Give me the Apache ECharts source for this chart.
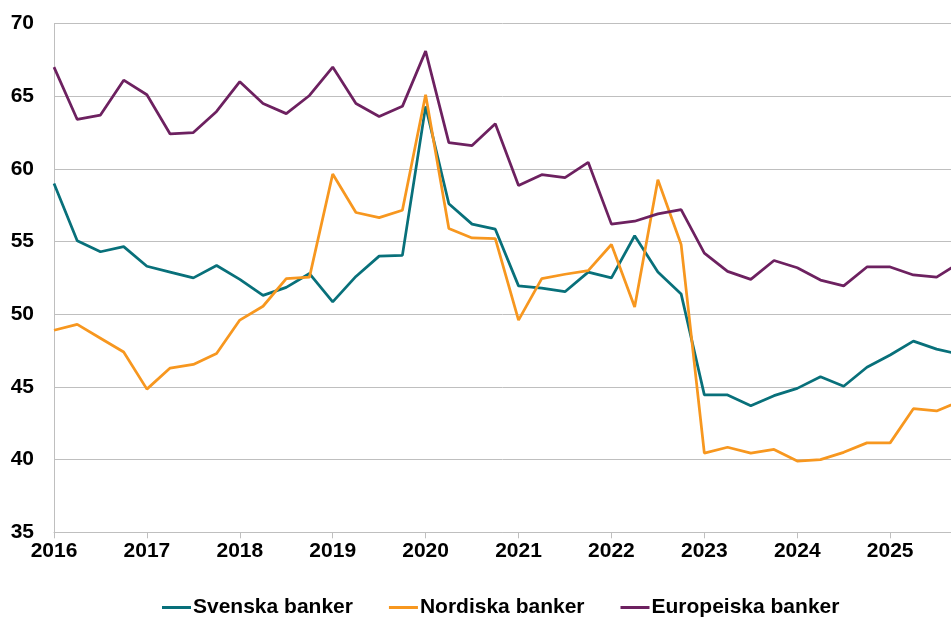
<!DOCTYPE html>
<html>
<head>
<meta charset="utf-8">
<script src="https://cdn.jsdelivr.net/npm/echarts@6/dist/echarts.min.js"></script>
<style>
  html, body { margin: 0; padding: 0; background: #fff; }
  #chart { width: 951px; height: 618px; }
</style>
</head>
<body>
<div id="chart"></div>
<script>
// quarterly time points (year + quarter fraction)
const quarters = [
  2016.0, 2016.25, 2016.5, 2016.75,
  2017.0, 2017.25, 2017.5, 2017.75,
  2018.0, 2018.25, 2018.5, 2018.75,
  2019.0, 2019.25, 2019.5, 2019.75,
  2020.0, 2020.25, 2020.5, 2020.75,
  2021.0, 2021.25, 2021.5, 2021.75,
  2022.0, 2022.25, 2022.5, 2022.75,
  2023.0, 2023.25, 2023.5, 2023.75,
  2024.0, 2024.25, 2024.5, 2024.75,
  2025.0, 2025.25, 2025.5, 2025.75,
];

const svenska = [
  59.0, 55.05, 54.3, 54.65,
  53.3, 52.9, 52.5, 53.35,
  52.4, 51.3, 51.85, 52.8,
  50.85, 52.6, 54.0, 54.05,
  64.3, 57.6, 56.2, 55.85,
  51.95, 51.8, 51.55, 52.9,
  52.5, 55.4, 52.9, 51.4,
  44.45, 44.45, 43.7, 44.4,
  44.9, 45.7, 45.05, 46.35,
  47.2, 48.15, 47.6, 47.25,
];

const nordiska = [
  48.9, 49.3, 48.35, 47.4,
  44.85, 46.3, 46.55, 47.3,
  49.6, 50.55, 52.45, 52.55,
  59.65, 57.0, 56.65, 57.15,
  65.1, 55.9, 55.25, 55.2,
  49.6, 52.45, 52.75, 53.0,
  54.8, 50.5, 59.25, 54.8,
  40.45, 40.85, 40.45, 40.7,
  39.9, 40.0, 40.5, 41.15,
  41.15, 43.5, 43.35, 44.0,
];

const europeiska = [
  67.0, 63.4, 63.7, 66.1,
  65.1, 62.4, 62.5, 63.95,
  66.0, 64.5, 63.8, 65.05,
  67.0, 64.5, 63.6, 64.3,
  68.1, 61.8, 61.6, 63.1,
  58.85, 59.6, 59.4, 60.45,
  56.2, 56.4, 56.9, 57.2,
  54.2, 52.95, 52.4, 53.7,
  53.2, 52.35, 51.95, 53.25,
  53.25, 52.7, 52.55, 53.55,
];

const seriesNames = ["Svenska banker", "Nordiska banker", "Europeiska banker"];
const seriesColors = ["#08707a", "#f7971f", "#6d2160"];
const seriesValues = [svenska, nordiska, europeiska];

const font = "'Liberation Sans', Arial, sans-serif";

const chart = echarts.init(document.getElementById("chart"));

const option = {
  animation: false,
  backgroundColor: "#fff",
  grid: {
    left: 54,
    right: 0,
    top: 23.5,
    bottom: 85.7,
    containLabel: false,
  },
  legend: {
    left: 162,
    top: 597,
    padding: 0,
    itemWidth: 29,
    itemHeight: 3,
    itemGap: 36,
    icon: "rect",
    textStyle: {
      fontFamily: font,
      fontWeight: "bold",
      fontSize: 21,
      color: "#000",
      padding: [0, 0, 0, -3],
    },
    data: seriesNames,
  },
  xAxis: {
    type: "value",
    min: 2016,
    max: 2025.655,
    interval: 1,
    splitLine: { show: false },
    axisLine: { lineStyle: { color: "#bfbfbf", width: 1 } },
    axisTick: { show: true, length: 6, lineStyle: { color: "#bfbfbf" } },
    axisLabel: {
      showMaxLabel: false,
      margin: 8,
      fontFamily: font,
      fontWeight: "bold",
      fontSize: 21,
      color: "#000",
      formatter: (v) => (Number.isInteger(v) ? String(v) : ""),
    },
  },
  yAxis: {
    type: "value",
    min: 35,
    max: 70,
    interval: 5,
    axisLine: { show: true, lineStyle: { color: "#bfbfbf", width: 1 } },
    axisTick: { show: false },
    splitLine: { lineStyle: { color: "#bfbfbf", width: 1 } },
    axisLabel: {
      margin: 20,
      fontFamily: font,
      fontWeight: "bold",
      fontSize: 21,
      color: "#000",
    },
  },
  series: seriesNames.map((name, i) => ({
    name: name,
    type: "line",
    data: quarters.map((q, j) => [q, seriesValues[i][j]]),
    symbol: "none",
    clip: true,
    color: seriesColors[i],
    lineStyle: { width: 2.75, color: seriesColors[i] },
  })),
};

chart.setOption(option);
</script>
</body>
</html>
